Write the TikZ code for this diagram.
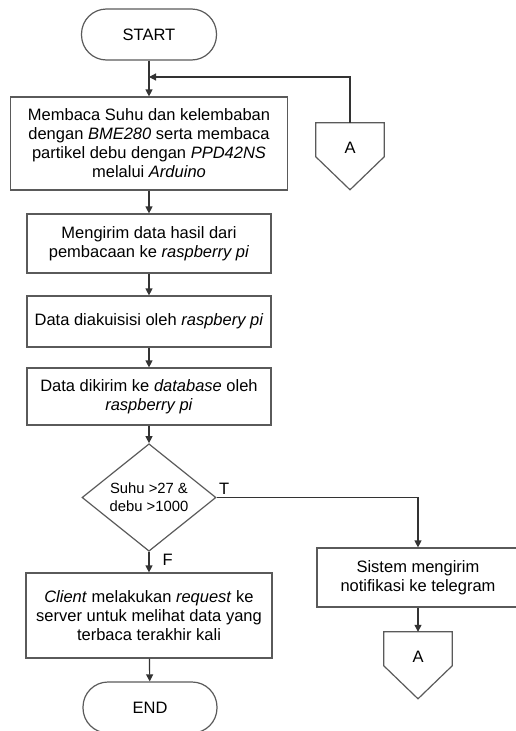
\documentclass[tikz,border=0pt]{standalone}
\usepackage{fontspec}
\setmainfont{Liberation Sans}
\usetikzlibrary{shapes.geometric,arrows.meta,calc}
\definecolor{linegray}{HTML}{5A5A5A}
\tikzset{
  terminal/.style={draw=linegray,line width=1.2pt,rounded corners=25pt,minimum width=135pt,minimum height=51pt,font=\fontsize{16.5}{19}\selectfont},
  process/.style={draw=linegray,line width=1.2pt,align=center,inner sep=0pt,font=\fontsize{16.5}{19}\selectfont},
  decision/.style={draw=linegray,line width=1.2pt,diamond,align=center,inner sep=0pt,minimum width=134pt,minimum height=99pt,font=\fontsize{14.8}{18}\selectfont},
  offpage/.style={minimum width=68pt,minimum height=50pt,inner sep=0pt,font=\fontsize{16.5}{19}\selectfont},
  flow/.style={draw=black!80,line width=1.2pt,-{Triangle[length=7pt,width=7pt]}},
  tag/.style={inner sep=2pt,font=\fontsize{16.5}{19}\selectfont}
}
\begin{document}
\begin{tikzpicture}[x=1pt,y=-1pt]
      \useasboundingbox (0,0) rectangle (515,731);
      \node[terminal] (start) at (149,34.5) {START};
      \node[process,minimum width=277pt,minimum height=93pt] (read) at (149,143.5)
        {Membaca Suhu dan kelembaban\\dengan \textit{BME280} serta membaca\\partikel debu dengan \textit{PPD42NS}\\melalui \textit{Arduino}};
      \node[process,minimum width=244pt,minimum height=59pt] (send) at (149,243.5)
        {Mengirim data hasil dari\\pembacaan ke \textit{raspberry pi}};
      \node[process,minimum width=244pt,minimum height=51pt] (acq) at (149,321.5)
        {Data diakuisisi oleh \textit{raspbery pi}};
      \node[process,minimum width=244pt,minimum height=57pt] (store) at (149,396.5)
        {Data dikirim ke \textit{database} oleh\\\textit{raspberry pi}};
      \node[decision] (cond) at (149,497.5) {Suhu >27 \&\\debu >1000};
      \node[process,minimum width=246pt,minimum height=85pt] (client) at (149,615.5)
        {\textit{Client} melakukan \textit{request} ke\\server untuk melihat data yang\\terbaca terakhir kali};
      \node[terminal,minimum width=134pt] (end) at (150,707.5) {END};
      \node[process,minimum width=202pt,minimum height=59pt] (notif) at (418,577.5)
        {Sistem mengirim\\notifikasi ke telegram};
      \node[offpage] (conA1) at (350,148) {A};
      \node[offpage] (conA2) at (418,657) {A};
      \coordinate (merge) at (149,77);
      \foreach \c in {conA1,conA2}
        \draw[draw=linegray,line width=1.2pt] (\c.north west) -- ($(\c.north west)+(0,34)$) -- ($(\c.north)+(0,67)$) -- ($(\c.north east)+(0,34)$) -- (\c.north east) -- cycle;
      \draw[flow] (start) -- (read);
      \draw[flow] (conA1.north) |- (merge);
      \draw[flow] (read) -- (send);
      \draw[flow] (send) -- (acq);
      \draw[flow] (acq) -- (store);
      \draw[flow] (store) -- (cond);
      \draw[flow] (cond.south) -- node[tag,right=11pt,pos=0.4] {F} (client);
      \draw[flow] (cond.east) -| node[tag,above right,pos=0] {T} (notif.north);
      \draw[flow] (client) -- (end);
      \draw[flow] (notif) -- (conA2);
      \end{tikzpicture}
\end{document}
